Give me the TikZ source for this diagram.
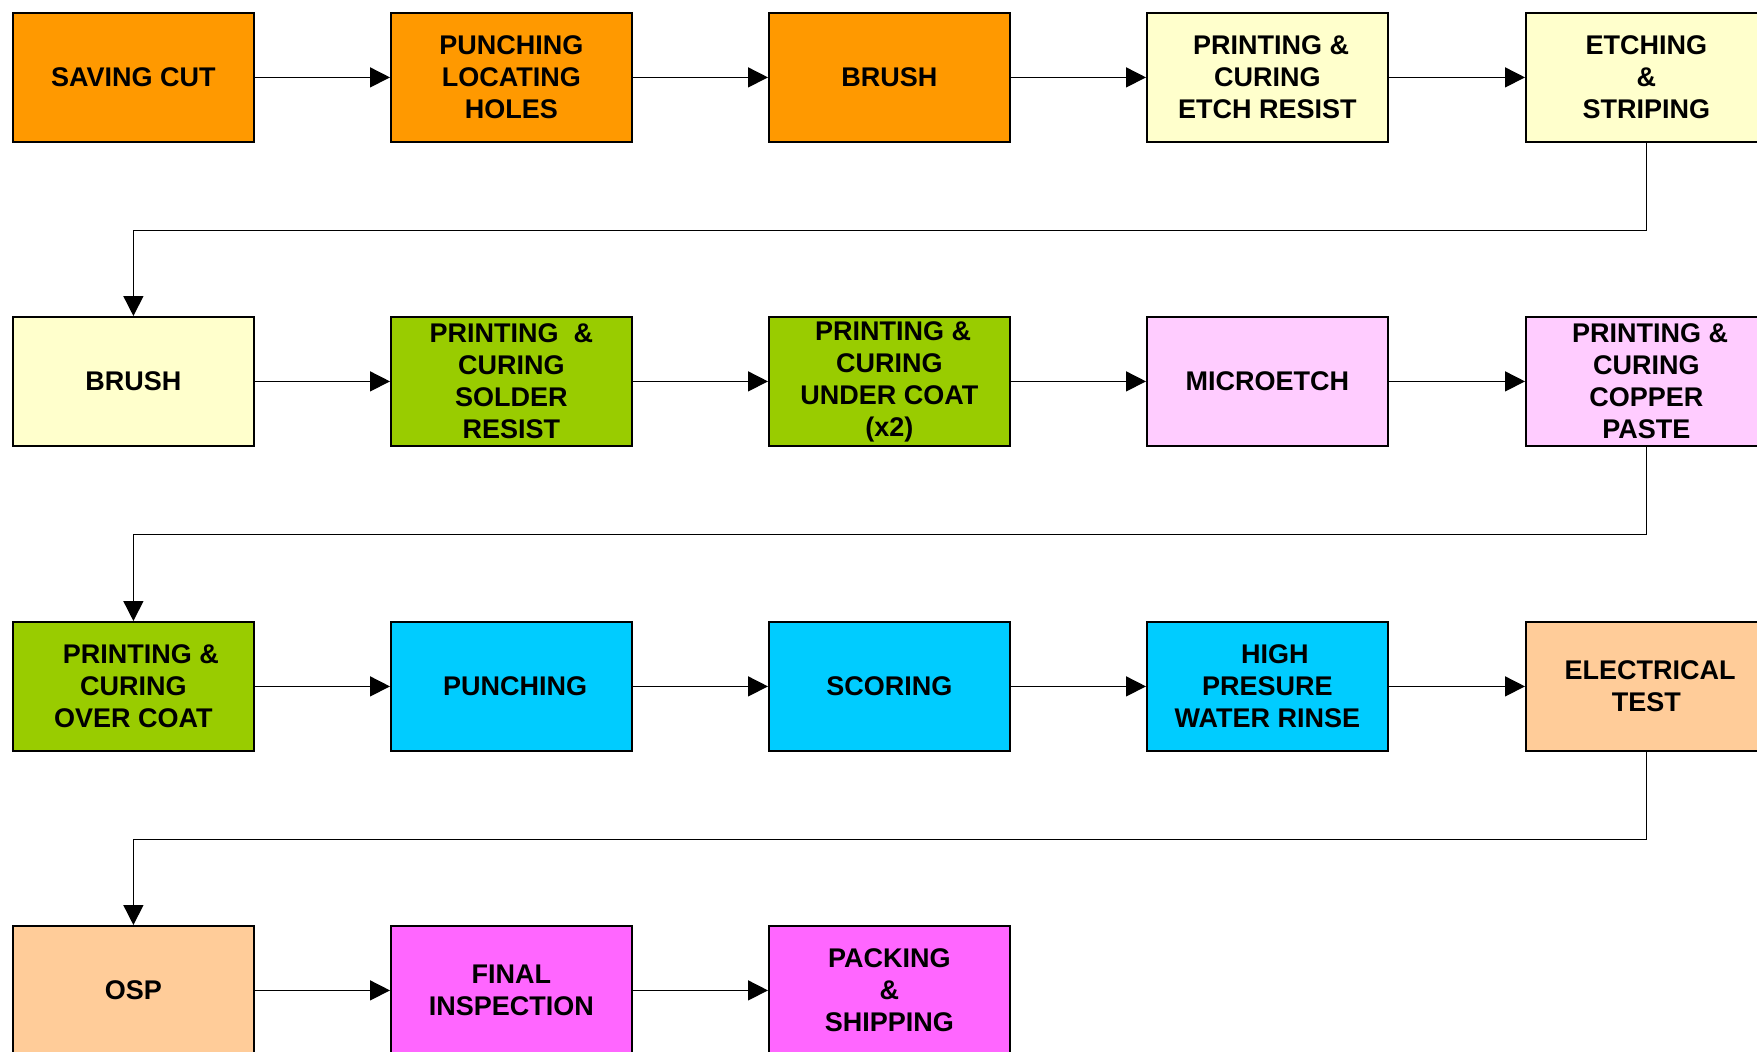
\documentclass[tikz,border=0pt]{standalone}
\usepackage{fontspec}
\setmainfont{Liberation Sans}
\usetikzlibrary{arrows.meta}
\definecolor{corange}{HTML}{FF9900}
\definecolor{cyellow}{HTML}{FFFFCC}
\definecolor{cgreen}{HTML}{99CC00}
\definecolor{cpink}{HTML}{FFCCFF}
\definecolor{ccyan}{HTML}{00CCFF}
\definecolor{cpeach}{HTML}{FFCC99}
\definecolor{cmagenta}{HTML}{FF66FF}
\newcommand{\lead}{\hspace*{7.5pt}}
\tikzset{
  stepbox/.style={draw=black, line width=1.8pt, minimum width=241pt, minimum height=129pt,
    anchor=north west, align=center, inner sep=0pt,
    font=\bfseries\fontsize{27}{32}\selectfont},
  arr/.style={line width=1.5pt, -{Triangle[length=20pt,width=20pt]}},
}
\begin{document}
\begin{tikzpicture}[x=1pt,y=-1pt]
\clip (0,0) rectangle (1757,1052);
\fill[white] (0,0) rectangle (1757,1052);
% row 1
\node[stepbox, fill=corange] (a1) at (12,12) {SAVING CUT};
\node[stepbox, fill=corange] (a2) at (390,12) {PUNCHING\\LOCATING\\HOLES};
\node[stepbox, fill=corange] (a3) at (768,12) {BRUSH};
\node[stepbox, fill=cyellow] (a4) at (1146,12) {\lead PRINTING \&\\CURING\\ETCH RESIST};
\node[stepbox, fill=cyellow] (a5) at (1525,12) {ETCHING\\\&\\STRIPING};
% row 2
\node[stepbox, fill=cyellow] (b1) at (12,316) {BRUSH};
\node[stepbox, fill=cgreen] (b2) at (390,316) {PRINTING~~\&\\CURING\\SOLDER\\RESIST};
\node[stepbox, fill=cgreen] (b3) at (768,316) {\lead PRINTING \&\\CURING\\UNDER COAT\\(x2)};
\node[stepbox, fill=cpink] (b4) at (1146,316) {MICROETCH};
\node[stepbox, fill=cpink] (b5) at (1525,316) {\lead PRINTING \&\\CURING\\COPPER\\PASTE};
% row 3
\node[stepbox, fill=cgreen] (c1) at (12,621) {\lead\lead PRINTING \&\\CURING\\OVER COAT};
\node[stepbox, fill=ccyan] (c2) at (390,621) {\lead PUNCHING};
\node[stepbox, fill=ccyan] (c3) at (768,621) {SCORING};
\node[stepbox, fill=ccyan] (c4) at (1146,621) {\lead\lead HIGH\\PRESURE\\WATER RINSE};
\node[stepbox, fill=cpeach] (c5) at (1525,621) {\lead ELECTRICAL\\TEST};
% row 4
\node[stepbox, fill=cpeach] (d1) at (12,925) {OSP};
\node[stepbox, fill=cmagenta] (d2) at (390,925) {FINAL\\INSPECTION};
\node[stepbox, fill=cmagenta] (d3) at (768,925) {PACKING\\\&\\SHIPPING};
% connectors
\draw[arr] (a1) -- (a2);
\draw[arr] (a2) -- (a3);
\draw[arr] (a3) -- (a4);
\draw[arr] (a4) -- (a5);
\draw[arr] (a5.south) -- ++(0,87.5) -| (b1.north);
\draw[arr] (b1) -- (b2);
\draw[arr] (b2) -- (b3);
\draw[arr] (b3) -- (b4);
\draw[arr] (b4) -- (b5);
\draw[arr] (b5.south) -- ++(0,87.5) -| (c1.north);
\draw[arr] (c1) -- (c2);
\draw[arr] (c2) -- (c3);
\draw[arr] (c3) -- (c4);
\draw[arr] (c4) -- (c5);
\draw[arr] (c5.south) -- ++(0,87.5) -| (d1.north);
\draw[arr] (d1) -- (d2);
\draw[arr] (d2) -- (d3);
\end{tikzpicture}
\end{document}
